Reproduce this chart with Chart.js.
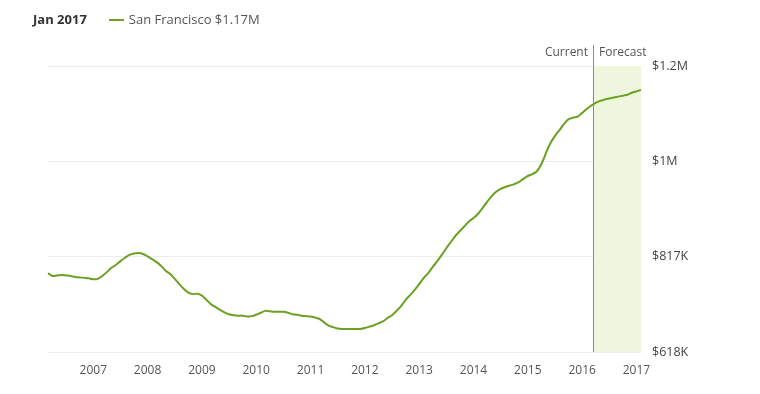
<!DOCTYPE html>
<html>
<head>
<meta charset="utf-8">
<script src="https://cdn.jsdelivr.net/npm/chart.js@4/dist/chart.umd.min.js"></script>
<style>
  html, body { margin: 0; padding: 0; background: #fff; }
  #wrap { position: relative; width: 760px; height: 394px; font-family: "Open Sans", sans-serif; }
  canvas { position: absolute; left: 0; top: 0; }
  #hdr { position: absolute; left: 33px; top: 10px; font-size: 13px; color: #555; white-space: nowrap; }
  #hdr b { color: #333; font-weight: 700; margin-right: 22px; }
  #hdr .sw { display: inline-block; width: 15px; height: 2px; background: #6aa121; vertical-align: middle; margin-right: 5px; position: relative; top: -1px; }
</style>
</head>
<body>
<div id="wrap">
  <canvas id="c" width="760" height="394"></canvas>
  <div id="hdr"><b>Jan 2017</b><span class="sw"></span>San Francisco $1.17M</div>
</div>
<script>
// Monthly values in $K, from Mar 2006 to Feb 2017
const startYear = 2006;
const startMonth = 3;
const sfValues = [
  783,777,778,779,778,777,775,774,773,772,770,771,
  777,785,794,800,808,815,821,824,825,823,818,812,
  806,798,788,781,771,760,750,742,739,740,736,727,
  718,712,706,701,697,695,694,694,692,693,696,700,
  704,703,702,702,702,700,697,696,694,693,692,690,
  687,680,673,670,667,666,666,666,666,666,668,671,
  674,678,682,689,695,704,714,727,737,748,760,773,
  783,796,808,821,835,848,861,871,881,891,898,907,
  919,932,944,953,959,963,966,969,973,980,986,990,
  996,1011,1034,1055,1070,1082,1095,1105,1108,1110,1118,1126,
  1133,1139,1143,1146,1148,1150,1152,1154,1156,1160,1163,1166
];
const currentLabel = "2016-03";
const yMin = 618, yMax = 1216;
const yTickLabels = ["$618K", "$817K", "$1M", "$1.2M"];

const months = sfValues.map((v, i) => {
  const m0 = startMonth - 1 + i;
  const y = startYear + Math.floor(m0 / 12);
  const m = (m0 % 12) + 1;
  return y + "-" + String(m).padStart(2, "0");
});

const forecastPlugin = {
  id: "forecast",
  beforeDatasetsDraw(chart) {
    const { ctx, chartArea, scales } = chart;
    const xc = Math.round(scales.x.getPixelForValue(months.indexOf(currentLabel))) + 2;
    ctx.save();
    ctx.fillStyle = "#eef7dd";
    ctx.fillRect(xc, chartArea.top, chartArea.right - xc, chartArea.bottom - chartArea.top);
    ctx.strokeStyle = "#8a8a8a";
    ctx.lineWidth = 1;
    ctx.beginPath();
    ctx.moveTo(xc + 0.5, chartArea.top - 21);
    ctx.lineTo(xc + 0.5, chartArea.bottom);
    ctx.stroke();
    ctx.font = '12px "Open Sans", sans-serif';
    ctx.fillStyle = "#555";
    ctx.textBaseline = "middle";
    ctx.textAlign = "right";
    ctx.fillText("Current", xc - 5, chartArea.top - 13);
    ctx.textAlign = "left";
    ctx.fillText("Forecast", xc + 6, chartArea.top - 13);
    ctx.restore();
  }
};

new Chart(document.getElementById("c"), {
  type: "line",
  data: {
    labels: months,
    datasets: [{
      label: "San Francisco",
      data: sfValues,
      borderColor: "#6aa121",
      borderWidth: 2,
      pointRadius: 0,
      tension: 0.3,
      fill: false
    }]
  },
  options: {
    responsive: false,
    animation: false,
    devicePixelRatio: 1,
    layout: { padding: { left: 48, top: 66, right: 0, bottom: 0 } },
    plugins: { legend: { display: false }, tooltip: { enabled: false } },
    scales: {
      x: {
        type: "category",
        offset: false,
        grid: { display: false, drawTicks: false },
        border: { display: false },
        ticks: {
          autoSkip: false,
          maxRotation: 0,
          padding: 11,
          color: "#555",
          font: { family: "Open Sans", size: 12 },
          callback: (val, idx) => months[idx].endsWith("-01") ? months[idx].slice(0, 4) : ""
        },
        afterFit: (s) => { s.height = 42; }
      },
      y: {
        position: "right",
        min: yMin,
        max: yMax,
        grid: { color: "#ececec", drawTicks: false },
        border: { display: false },
        afterBuildTicks: (s) => {
          s.ticks = yTickLabels.map((l, k) => ({ value: yMin + k * (yMax - yMin) / (yTickLabels.length - 1) }));
        },
        ticks: {
          padding: 11,
          color: "#444",
          font: { family: "Open Sans", size: 12.5 },
          callback: (val, idx) => yTickLabels[idx]
        },
        afterFit: (s) => { s.width = 119; }
      }
    }
  },
  plugins: [forecastPlugin]
});
</script>
</body>
</html>
